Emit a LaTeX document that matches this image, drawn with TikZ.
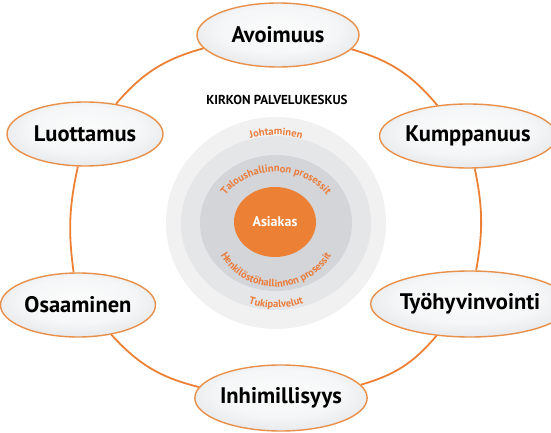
\documentclass[tikz,border=0pt]{standalone}
\usepackage{fontspec}
\setmainfont{PT Sans}
\usepackage{tikz}
\usetikzlibrary{shapes.geometric,decorations.text}
\definecolor{kirkko}{HTML}{EC8136}
\definecolor{kehys}{HTML}{E8904A}
\definecolor{vaalea}{HTML}{F1F1F2}
\definecolor{keski}{HTML}{E5E6E8}
\definecolor{tumma}{HTML}{D3D5D9}
\definecolor{oranssiteksti}{HTML}{EA7D3C}
\definecolor{harmaa}{HTML}{C0C5CC}
\pgfdeclareradialshading{kupla}{\pgfpoint{0bp}{6bp}}{color(0bp)=(white!93!harmaa); color(18bp)=(white!85!harmaa); color(42bp)=(white!30!harmaa); color(50bp)=(harmaa)}

\begin{document}
\begin{tikzpicture}[x=1pt,y=1pt,
        arvo/.style={ellipse,draw=kehys,line width=1.4pt,shading=kupla,
            minimum width=158pt,minimum height=64pt,inner sep=0pt,
            font=\fontsize{22.5}{26}\selectfont\bfseries},
        kaari/.style={draw=kirkko,line width=1.8pt},
        kaariteksti/.style={decorate,decoration={text along path,text align=center,
            text={|\fontsize{10.5}{12}\selectfont\bfseries\color{oranssiteksti}|#1}}}
    ]
    \useasboundingbox (0,0) rectangle (551,433);
    \coordinate (keskus) at (276,210);
    \fill[vaalea] (keskus) ellipse[x radius=110pt,y radius=106pt];
    \fill[keski] (keskus) ellipse[x radius=95pt,y radius=87pt];
    \fill[tumma] (keskus) ellipse[x radius=76pt,y radius=68pt];
    \node[ellipse,fill=kirkko,minimum width=82pt,minimum height=70pt,inner sep=0pt,
        text=white,font=\fontsize{14}{16}\selectfont\bfseries] (asiakas) at (275,211) {Asiakas};
    \path[kaariteksti=Johtaminen] (keskus) ++(140:88pt) arc[start angle=140,end angle=40,radius=88pt];
    \path[kaariteksti=Taloushallinnon prosessit] (keskus) ++(170:60pt and 51pt)
        arc[start angle=170,end angle=10,x radius=60pt,y radius=51pt];
    \path[kaariteksti=Henkilöstöhallinnon prosessit] (keskus) ++(185:64pt and 64pt)
        arc[start angle=185,end angle=355,x radius=64pt,y radius=64pt];
    \path[kaariteksti=Tukipalvelut] (keskus) ++(220:85pt) arc[start angle=220,end angle=320,radius=85pt];
    \node[font=\fontsize{13}{15}\selectfont\bfseries] (otsikko) at (277,333) {KIRKON PALVELUKESKUS};

    \node[arvo,minimum width=162pt] (avoimuus) at (278,398) {Avoimuus};
    \node[arvo] (kumppanuus) at (468,297) {Kumppanuus};
    \node[arvo,minimum width=163pt,minimum height=66pt] (tyohyvinvointi) at (470,129) {Työhyvinvointi};
    \node[arvo,minimum width=162pt,minimum height=66pt] (inhimillisyys) at (281,35) {Inhimillisyys};
    \node[arvo,minimum width=155pt] (osaaminen) at (78,128) {Osaaminen};
    \node[arvo,minimum width=156pt] (luottamus) at (85,299) {Luottamus};
    \foreach \a/\b/\k in {avoimuus/kumppanuus/17,kumppanuus/tyohyvinvointi/11,
        tyohyvinvointi/inhimillisyys/17,inhimillisyys/osaaminen/17,
        osaaminen/luottamus/10,luottamus/avoimuus/17} {
            \draw[kaari] (\a) to[bend left=\k] (\b);
        }
\end{tikzpicture}
\end{document}
